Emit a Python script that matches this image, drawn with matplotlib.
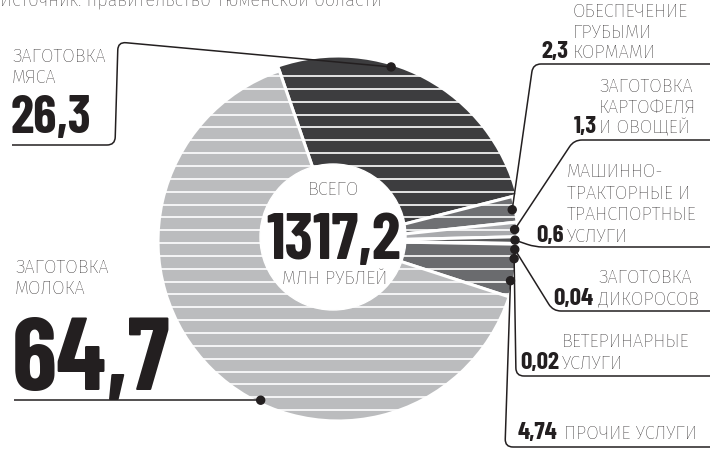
import numpy as np
import matplotlib.pyplot as plt
from matplotlib.patches import Circle, PathPatch
from matplotlib.path import Path

# --- data ---
categories = ['meat', 'feed', 'potato', 'machinery', 'wild', 'vet', 'other', 'milk']
shares = [26.3, 2.3, 1.3, 0.6, 0.04, 0.02, 4.74, 64.7]
value_labels = ['26,3', '2,3', '1,3', '0,6', '0,04', '0,02', '4,74', '64,7']
names = [
    ['ЗАГОТОВКА', 'МЯСА'],
    ['ОБЕСПЕЧЕНИЕ', 'ГРУБЫМИ', 'КОРМАМИ'],
    ['ЗАГОТОВКА', 'КАРТОФЕЛЯ', 'И ОВОЩЕЙ'],
    ['МАШИННО-', 'ТРАКТОРНЫЕ И', 'ТРАНСПОРТНЫЕ', 'УСЛУГИ'],
    ['ЗАГОТОВКА', 'ДИКОРОСОВ'],
    ['ВЕТЕРИНАРНЫЕ', 'УСЛУГИ'],
    ['ПРОЧИЕ УСЛУГИ'],
    ['ЗАГОТОВКА', 'МОЛОКА'],
]
total_label = '1317,2'
source = 'Источник: правительство Тюменской области'

colors = ['#3d3d3f', '#6f7073', '#a9aaad', '#58595b', '#c6c7c9', '#dadbdc', '#6a6b6e', '#bbbcbe']

# --- layout (pixels, measured from the top) ---
W, H = 710, 454
CX, CY, R = 338, 241, 180
INK = '#231f20'
NUM_FONT = ['Barlow Condensed', 'DejaVu Sans']
TXT_FONT = ['Fira Sans', 'DejaVu Sans']
TXT_SIZE = 13.2

# text x, first baseline, line step, number x, number baseline, number align, number size
label_pos = [
    (12, 62, 21, 11, 133, 'left', 38),
    (573, 17, 20.5, 568, 58, 'right', 18),
    (599, 92, 20.5, 597, 133, 'right', 18),
    (567, 177, 21.7, 564, 242, 'right', 18),
    (598, 283, 21.5, 593, 305, 'right', 18),
    (562, 347, 22, 559, 369, 'right', 18),
    (564, 439, 0, 557, 439, 'right', 18),
    (15, 273, 21, 12, 390, 'left', 74),
]
# leader route after the anchor dot
routes = [
    [(118, 42), (115, 145), (12, 145)],
    [(533, 64), (710, 64)],
    [(574, 140), (710, 140)],
    [(535, 247), (710, 247)],
    [(553, 311), (710, 311)],
    [(516, 376), (710, 376)],
    [(505, 447), (710, 447)],
    None,
]
anchor_frac = [0.38, 0.5, 0.5, 0.5, 0.5, 0.5, 0.7, 0.42]


def Y(y):
    return H - y


def rounded(points, r=7):
    verts = [points[0]]
    codes = [Path.MOVETO]
    for i in range(1, len(points) - 1):
        p0, p1, p2 = (np.array(p, float) for p in points[i - 1:i + 2])
        d1, d2 = np.linalg.norm(p0 - p1), np.linalg.norm(p2 - p1)
        a = p1 + (p0 - p1) / d1 * min(r, d1 / 2)
        b = p1 + (p2 - p1) / d2 * min(r, d2 / 2)
        verts += [a, p1, b]
        codes += [Path.LINETO, Path.CURVE3, Path.CURVE3]
    verts.append(points[-1])
    codes.append(Path.LINETO)
    return Path(verts, codes)


fig = plt.figure(figsize=(W / 100, H / 100), dpi=100)
ax = fig.add_axes([0, 0, 1, 1])

wedges, _ = ax.pie(shares, colors=colors, startangle=109, counterclock=False,
                   center=(CX, Y(CY)), radius=R, frame=True,
                   wedgeprops=dict(edgecolor='white', linewidth=2.2))
wedges[0].set_radius(R + 5)
ax.set_xlim(0, W)
ax.set_ylim(0, H)
ax.set_aspect('auto')
ax.axis('off')

# white horizontal stripes across the pie
ys = [Y(76 + 12.85 * k) for k in range(30)]
lc = ax.hlines(ys, CX - R - 10, CX + R + 10, colors='white', linewidth=1.2, zorder=3)
lc.set_clip_path(Circle((CX, Y(CY)), R + 6, transform=ax.transData))

ax.add_patch(Circle((333, Y(237)), 73, color='white', zorder=4))
ax.text(333, Y(195), 'ВСЕГО', family=TXT_FONT, weight='light', fontsize=TXT_SIZE,
        color=INK, ha='center', va='baseline', zorder=5)
ax.text(334, Y(259), total_label, family=NUM_FONT, weight='bold', fontsize=47,
        color=INK, ha='center', va='baseline', zorder=5)
ax.text(335, Y(284), 'МЛН РУБЛЕЙ', family=TXT_FONT, weight='light', fontsize=TXT_SIZE,
        color=INK, ha='center', va='baseline', zorder=5)

# anchor angles on each wedge
angles = []
for w, f in zip(wedges, anchor_frac):
    angles.append(w.theta2 - f * (w.theta2 - w.theta1))
for i in range(2, 6):
    angles[i] = min(angles[i], angles[i - 1] - 3)

for i, w in enumerate(wedges):
    rr = w.r - 3
    a = np.deg2rad(angles[i])
    ax_, ay_ = CX + rr * np.cos(a), Y(CY) + rr * np.sin(a)
    if routes[i] is None:
        pts = [(ax_, ay_), (label_pos[i][0] - 1, ay_)]
    else:
        pts = [(ax_, ay_)] + [(x, Y(y)) for x, y in routes[i]]
    ax.add_patch(PathPatch(rounded(pts, 8), fill=False, edgecolor=INK, lw=1.1,
                           capstyle='butt', zorder=6))
    ax.add_patch(Circle((ax_, ay_), 4, color=INK, zorder=7))

    tx, ty, step, nx, ny, nha, nsize = label_pos[i]
    for k, line in enumerate(names[i]):
        ax.text(tx, Y(ty + k * step), line, family=TXT_FONT, weight='light',
                fontsize=TXT_SIZE, color=INK, ha='left', va='baseline')
    ax.text(nx, Y(ny), value_labels[i], family=NUM_FONT, weight='bold',
            fontsize=nsize, color=INK, ha=nha, va='baseline')

ax.text(0, Y(5), source, family=TXT_FONT, weight='light', fontsize=TXT_SIZE,
        color=INK, ha='left', va='baseline')

fig.savefig('out.png', dpi=100)
